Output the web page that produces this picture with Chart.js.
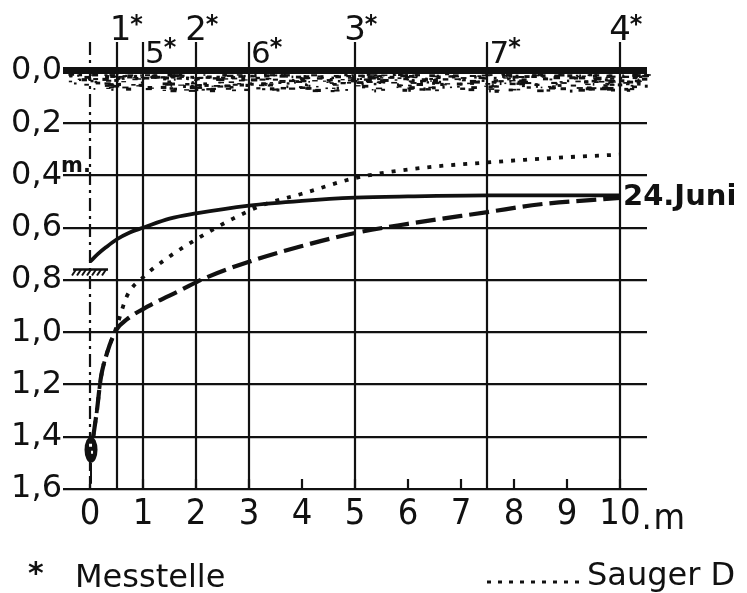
<!DOCTYPE html>
<html>
<head>
<meta charset="utf-8">
<script src="https://cdn.jsdelivr.net/npm/chart.js@4.4.1/dist/chart.umd.min.js"></script>
<style>
  html, body { margin: 0; padding: 0; background: #fff; }
  #wrap { position: relative; width: 747px; height: 593px; }
</style>
</head>
<body>
<div id="wrap"><canvas id="profileChart"></canvas></div>
<script>
// axis ticks
const xTicks = [0, 1, 2, 3, 4, 5, 6, 7, 8, 9, 10];
const yTicks = [0.0, 0.2, 0.4, 0.6, 0.8, 1.0, 1.2, 1.4, 1.6];

// Messstellen (distance from Sauger in m)
const stationNames = ['1', '5', '2', '6', '3', '7', '4'];
const stationX = [0.5, 1, 2, 3, 5, 7.5, 10];

// 24. Juni (solid)
const juniX = [0, 0.15, 0.3, 0.5, 0.75, 1, 1.5, 2, 3, 4, 5, 6, 7.5, 10];
const juniY = [0.73, 0.70, 0.675, 0.645, 0.618, 0.60, 0.565, 0.545, 0.515, 0.497, 0.485, 0.48, 0.476, 0.476];

// Sauger D (dotted)
const saugerX = [0.06, 0.13, 0.2, 0.32, 0.5, 0.7, 1, 1.5, 2, 2.7, 3.3, 4, 5, 6.3, 7.5, 9, 10];
const saugerY = [1.40, 1.30, 1.18, 1.08, 0.98, 0.86, 0.79, 0.71, 0.645, 0.565, 0.51, 0.47, 0.41, 0.37, 0.35, 0.33, 0.32];

// dashed curve
const dashX = [0.06, 0.13, 0.2, 0.32, 0.5, 0.7, 1.1, 1.7, 2.2, 3, 4, 5, 6, 7.5, 8.5, 10];
const dashY = [1.40, 1.30, 1.18, 1.08, 0.99, 0.95, 0.90, 0.84, 0.79, 0.73, 0.67, 0.62, 0.585, 0.54, 0.51, 0.486];

// symbols
const waterLevel = 0.76;
const saugerDepth = [1.40, 1.50, 1.58];

const INK = '#111';
const SANS = '"DejaVu Sans", sans-serif';
const NARROW = '"Liberation Sans Narrow", "DejaVu Sans Condensed", sans-serif';

const toPoints = (xs, ys) => xs.map((v, i) => ({ x: v, y: ys[i] }));

// deterministic hash for the soil texture
const hash = (n) => {
  const s = Math.sin(n * 12.9898 + 78.233) * 43758.5453;
  return s - Math.floor(s);
};

const sketchPlugin = {
  id: 'sketch',
  beforeDatasetsDraw(chart) {
    const { ctx, chartArea, scales: { x, y } } = chart;
    ctx.save();
    ctx.strokeStyle = INK;
    ctx.fillStyle = INK;

    // station lines
    ctx.lineWidth = 2.2;
    stationX.forEach(v => {
      const px = Math.round(x.getPixelForValue(v));
      ctx.beginPath();
      ctx.moveTo(px, chartArea.top);
      ctx.lineTo(px, chartArea.bottom);
      ctx.stroke();
    });

    // dash-dot line at 0
    const x0 = Math.round(x.getPixelForValue(0));
    ctx.setLineDash([13, 5, 3, 5]);
    ctx.beginPath();
    ctx.moveTo(x0, chartArea.top);
    ctx.lineTo(x0, chartArea.bottom);
    ctx.stroke();
    ctx.setLineDash([]);

    // small ticks at the bottom
    xTicks.forEach(v => {
      const px = Math.round(x.getPixelForValue(v));
      ctx.beginPath();
      ctx.moveTo(px, chartArea.bottom);
      ctx.lineTo(px, chartArea.bottom - 10);
      ctx.stroke();
    });

    // soil stipple below 0,0
    const gy = y.getPixelForValue(0);
    const left = chartArea.left + 4, right = chartArea.right - 2;
    for (let i = 0; i < 620; i++) {
      const sx = left + hash(i) * (right - left);
      const sy = gy + 3 + Math.pow(hash(i + 1000), 1.7) * 16;
      const w = 1.5 + hash(i + 2000) * 5;
      const h = 1.2 + hash(i + 3000) * 2;
      ctx.fillRect(sx, sy, w, h);
    }
    ctx.restore();
  },
  afterDraw(chart) {
    const { ctx, chartArea, scales: { x, y } } = chart;
    const x0 = x.getPixelForValue(0);
    ctx.save();
    ctx.fillStyle = INK;
    ctx.strokeStyle = INK;

    // station labels
    stationNames.forEach((n, i) => {
      const px = x.getPixelForValue(stationX[i]);
      const top = Number(n) <= 4;
      const base = top ? 40 : 63;
      ctx.font = (top ? '34px ' : '31px ') + SANS;
      const w = ctx.measureText(n).width;
      const start = top ? px - w / 2 + (n === '1' ? 4 : 0) : px + 2;
      ctx.textAlign = 'left';
      ctx.textBaseline = 'alphabetic';
      ctx.fillText(n, start, base);
      ctx.font = 'bold 24px ' + SANS;
      ctx.fillText('*', start + w - 1, base - 8);
    });

    // water level mark
    const wy = y.getPixelForValue(waterLevel);
    ctx.lineWidth = 2.5;
    ctx.beginPath();
    ctx.moveTo(x0 - 17, wy);
    ctx.lineTo(x0 + 18, wy);
    ctx.stroke();
    ctx.lineWidth = 2;
    for (let hx = x0 - 14; hx <= x0 + 18; hx += 5) {
      ctx.beginPath();
      ctx.moveTo(hx, wy);
      ctx.lineTo(hx - 4, wy + 6);
      ctx.stroke();
    }

    // Sauger symbol
    const sTop = y.getPixelForValue(saugerDepth[0]);
    const sBot = y.getPixelForValue(saugerDepth[1]);
    const sEnd = y.getPixelForValue(saugerDepth[2]);
    ctx.beginPath();
    ctx.ellipse(x0 + 1, (sTop + sBot) / 2, 6.5, (sBot - sTop) / 2, 0, 0, Math.PI * 2);
    ctx.fill();
    ctx.fillStyle = '#fff';
    ctx.fillRect(x0 - 1, sTop + 7, 3, 3);
    ctx.fillRect(x0 + 1, sTop + 14, 2, 3);
    ctx.fillStyle = INK;
    ctx.lineWidth = 2;
    ctx.beginPath();
    ctx.moveTo(x0 + 1, sBot);
    ctx.lineTo(x0 + 1, sEnd);
    ctx.stroke();

    // unit labels
    ctx.textAlign = 'left';
    ctx.textBaseline = 'alphabetic';
    ctx.font = 'bold 21px ' + SANS;
    ctx.fillText('m.', chartArea.left - 2, y.getPixelForValue(0.4) - 3);

    ctx.font = '36px ' + NARROW;
    const x10 = x.getPixelForValue(10);
    const w10 = ctx.measureText('10').width;
    ctx.fillText('.', x10 + w10 / 2 + 1, chartArea.bottom + 40);
    ctx.fillText('m', x10 + w10 / 2 + 13, chartArea.bottom + 40);

    // curve label
    ctx.font = 'bold 29px ' + SANS;
    ctx.fillText('24.Juni', x10 + 3, y.getPixelForValue(0.476) + 10);

    // legend
    ctx.font = 'bold 30px ' + SANS;
    ctx.fillText('*', 28, 583);
    ctx.font = '32px ' + SANS;
    ctx.fillText('Messtelle', 75, 587);
    ctx.fillText('Sauger D', 587, 585);
    ctx.lineWidth = 3;
    ctx.setLineDash([4, 7]);
    ctx.beginPath();
    ctx.moveTo(487, 582);
    ctx.lineTo(580, 582);
    ctx.stroke();

    ctx.restore();
  }
};

const ctx = document.getElementById('profileChart').getContext('2d');

new Chart(ctx, {
  type: 'scatter',
  data: {
    datasets: [{
      label: '24. Juni',
      data: toPoints(juniX, juniY),
      showLine: true,
      borderColor: INK,
      borderWidth: 3.8,
      pointRadius: 0,
      cubicInterpolationMode: 'monotone'
    }, {
      label: 'Sauger D',
      data: toPoints(saugerX, saugerY),
      showLine: true,
      borderColor: INK,
      borderWidth: 3.8,
      borderDash: [4, 8],
      pointRadius: 0,
      cubicInterpolationMode: 'monotone'
    }, {
      label: 'dashed',
      data: toPoints(dashX, dashY),
      showLine: true,
      borderColor: INK,
      borderWidth: 4.2,
      borderDash: [20, 7],
      pointRadius: 0,
      cubicInterpolationMode: 'monotone'
    }]
  },
  options: {
    responsive: true,
    maintainAspectRatio: false,
    animation: false,
    layout: { padding: { left: 0, top: 42, right: 100, bottom: 0 } },
    plugins: {
      legend: { display: false },
      tooltip: { enabled: false }
    },
    scales: {
      x: {
        type: 'linear',
        min: -0.51,
        max: 10.51,
        afterBuildTicks: (scale) => { scale.ticks = xTicks.map(v => ({ value: v })); },
        afterFit: (scale) => { scale.height = 104; },
        grid: { display: false, drawTicks: false },
        border: { display: false },
        ticks: {
          color: INK,
          font: { family: NARROW, size: 36 },
          padding: 4,
          maxRotation: 0,
          autoSkip: false,
          callback: (v) => String(v)
        }
      },
      y: {
        type: 'linear',
        reverse: true,
        min: -0.111,
        max: 1.6,
        afterBuildTicks: (scale) => { scale.ticks = yTicks.map(v => ({ value: v })); },
        afterFit: (scale) => { scale.width = 63; },
        grid: {
          color: INK,
          drawTicks: false,
          lineWidth: (c) => (c.tick && c.tick.value === 0 ? 7 : 2.2)
        },
        border: { display: false },
        ticks: {
          color: INK,
          font: { family: SANS, size: 32 },
          padding: 1,
          autoSkip: false,
          callback: (v) => Number(v).toFixed(1).replace('.', ',')
        }
      }
    }
  },
  plugins: [sketchPlugin]
});
</script>
</body>
</html>
